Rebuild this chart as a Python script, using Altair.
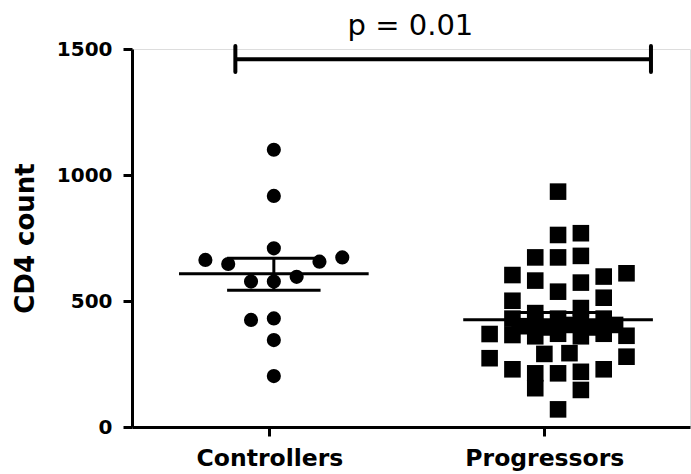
import altair as alt
import pandas as pd

# ---- data ----
groups = ["Controllers", "Progressors"]
group_ticks = [1, 2]
group_centers = [1.016, 2.05]      # centre of each swarm (x units)
col_step = 0.083                    # swarm column spacing (x units)

ctrl_values = [1100, 917, 709, 663, 673, 647, 656, 596, 577, 577, 425, 431, 345, 202]
ctrl_cols = [0, 0, 0, -3, 3, -2, 2, 1, -1, 0, -1, 0, 0, 0]

prog_values = [369, 273,
               603, 501, 430, 365, 229,
               400,
               673, 581, 452, 420, 360, 213, 154,
               395, 290,
               934, 762, 673, 537, 430, 370, 213, 70,
               405, 293,
               769, 679, 573, 472, 420, 360, 219, 147,
               395,
               597, 513, 430, 370, 229,
               405,
               610, 362, 279]
prog_cols = [-3, -3,
             -2, -2, -2, -2, -2,
             -1.5,
             -1, -1, -1, -1, -1, -1, -1,
             -0.5, -0.6,
             0, 0, 0, 0, 0, 0, 0, 0,
             0.5, 0.5,
             1, 1, 1, 1, 1, 1, 1, 1,
             1.5,
             2, 2, 2, 2, 2,
             2.5,
             3, 3, 3]

group_means = [608, 426]
group_sem_hi = [670, 454]
group_sem_lo = [543, 398]
mean_half = 0.345
sem_half = 0.17

sig_x = [0.876, 2.388]
sig_y = 1459
sig_cap = [1409, 1512]
sig_label = "p = 0.01"
sig_label_pos = [1.513, 1556]

# ---- tables ----
pts = pd.DataFrame({
    "group": ["Controllers"] * len(ctrl_values) + ["Progressors"] * len(prog_values),
    "value": ctrl_values + prog_values,
    "col": ctrl_cols + prog_cols,
})
centers = dict(zip(groups, group_centers))
pts["x"] = pts["group"].map(centers) + pts["col"] * col_step

summ = pd.DataFrame({
    "group": groups,
    "c": group_centers,
    "mean": group_means,
    "hi": group_sem_hi,
    "lo": group_sem_lo,
})
summ["m1"] = summ["c"] - mean_half
summ["m2"] = summ["c"] + mean_half
summ["s1"] = summ["c"] - sem_half
summ["s2"] = summ["c"] + sem_half

sig = pd.DataFrame({"x1": [sig_x[0]], "x2": [sig_x[1]], "y": [sig_y]})
caps = pd.DataFrame({"x": sig_x, "y1": [sig_cap[0]] * 2, "y2": [sig_cap[1]] * 2})
lab = pd.DataFrame({"x": [sig_label_pos[0]], "y": [sig_label_pos[1]], "t": [sig_label]})

xscale = alt.Scale(domain=[0.5, 2.53], nice=False, zero=False)
yscale = alt.Scale(domain=[0, 1500], nice=False, zero=False)

xaxis = alt.Axis(
    values=group_ticks,
    labelExpr="datum.value == 1 ? 'Controllers' : 'Progressors'",
    title=None, grid=False,
    labelFont="DejaVu Sans", labelFontWeight="bold", labelFontSize=23.5, labelColor="black",
    labelPadding=10, tickSize=9, tickWidth=3, tickColor="black",
    domainColor="black", domainWidth=3, labelBaseline="top",
)
yaxis = alt.Axis(
    values=[0, 500, 1000, 1500], format="d", title="CD4 count", grid=False,
    labelFont="DejaVu Sans", labelFontWeight="bold", labelFontSize=20, labelColor="black",
    labelPadding=11, tickSize=9, tickWidth=3, tickColor="black",
    domainColor="black", domainWidth=3,
    titleFont="DejaVu Sans", titleFontWeight="bold", titleFontSize=26, titleColor="black",
    titleX=-99, titleY=189, titleAngle=270, titleBaseline="alphabetic", titleAlign="center",
)

points = alt.Chart(pts).mark_point(filled=True, opacity=1, strokeWidth=0).encode(
    x=alt.X("x:Q", scale=xscale, axis=xaxis),
    y=alt.Y("value:Q", scale=yscale, axis=yaxis),
    shape=alt.Shape("group:N", scale=alt.Scale(domain=groups, range=["circle", "square"]), legend=None),
    size=alt.Size("group:N", scale=alt.Scale(domain=groups, range=[200, 275]), legend=None),
    color=alt.value("black"),
)

base_s = alt.Chart(summ)
mean_rule = base_s.mark_rule(color="black", strokeWidth=3).encode(
    x="m1:Q", x2="m2:Q", y="mean:Q")
hi_rule = base_s.mark_rule(color="black", strokeWidth=3).encode(
    x="s1:Q", x2="s2:Q", y="hi:Q")
lo_rule = base_s.mark_rule(color="black", strokeWidth=3).encode(
    x="s1:Q", x2="s2:Q", y="lo:Q")
v_rule = base_s.mark_rule(color="black", strokeWidth=3).encode(
    x="c:Q", y="lo:Q", y2="hi:Q")

sig_rule = alt.Chart(sig).mark_rule(color="black", strokeWidth=4).encode(
    x="x1:Q", x2="x2:Q", y="y:Q")
cap_rule = alt.Chart(caps).mark_rule(color="black", strokeWidth=4, strokeCap="round").encode(
    x="x:Q", y="y1:Q", y2="y2:Q")
sig_text = alt.Chart(lab).mark_text(
    font="DejaVu Sans", fontSize=29, color="black", align="center", baseline="alphabetic"
).encode(x="x:Q", y="y:Q", text="t:N")

chart = alt.layer(
    points, mean_rule, hi_rule, lo_rule, v_rule, sig_rule, cap_rule, sig_text
).properties(
    width=558, height=378,
    autosize=alt.AutoSizeParams(type="none"),
    padding={"left": 132, "top": 49, "right": 1, "bottom": 47},
).configure_view(strokeWidth=0).configure(background="white")

chart.save("out.html", embed_options={"renderer": "svg", "actions": False})
